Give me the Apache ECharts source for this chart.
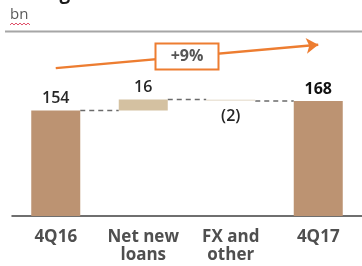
<!DOCTYPE html>
<html>
<head>
<meta charset="utf-8">
<script src="https://cdn.jsdelivr.net/npm/echarts@6/dist/echarts.min.js"></script>
<style>
html,body{margin:0;padding:0;background:#fff;}
#c{width:362px;height:266px;}
</style>
</head>
<body>
<div id="c"></div>
<script>
// ---- data ----
var categories = ['4Q16', 'Net new\nloans', 'FX and\nother', '4Q17'];
var values = [154, 16, -2, 168];          // start, change, change, end
var kinds = ['total', 'delta', 'delta', 'total'];
var valueLabels = ['154', '16', '(2)', '168'];
var unitLabel = 'bn';
var titleText = 'Loan growth';

// ---- derived waterfall geometry (from data) ----
var bases = [], heights = [], levels = [];
var running = 0;
for (var i = 0; i < values.length; i++) {
  if (kinds[i] === 'total') {
    bases.push(0); heights.push(values[i]); running = values[i];
  } else {
    var next = running + values[i];
    bases.push(Math.min(running, next));
    heights.push(Math.abs(values[i]));
    running = next;
  }
  levels.push(running);
}
var growthPct = Math.round((values[3] / values[0] - 1) * 100);

var barColors = ['#BC9372', '#D4C1A1', '#ECE5D9', '#BC9372'];
var ORANGE = '#ED7D31';
var BAR_W = 49;

var chart = echarts.init(document.getElementById('c'), null, {renderer: 'canvas'});

var visData = heights.map(function (h, i) {
  var neg = values[i] < 0;
  return {
    value: h,
    itemStyle: {color: barColors[i]},
    label: {
      show: true,
      position: neg ? 'bottom' : 'top',
      distance: neg ? 7 : 4,
      formatter: valueLabels[i],
      fontWeight: i === 3 ? 'bold' : 600,
      color: i === 3 ? '#111' : '#262626'
    }
  };
});

var connectorData = [];
for (var j = 0; j < levels.length - 1; j++) connectorData.push([j, levels[j]]);

chart.setOption({
  animation: false,
  textStyle: {fontFamily: 'Open Sans'},
  grid: {left: 12, width: 355, top: 38, bottom: 50, containLabel: false},
  xAxis: {
    type: 'category',
    data: categories,
    axisTick: {show: false},
    axisLine: {lineStyle: {color: '#404040', width: 1.5}},
    axisLabel: {
      interval: 0, margin: 12, fontSize: 17, fontWeight: 'bold',
      color: '#4f4f4f', lineHeight: 18, fontFamily: 'Open Sans'
    }
  },
  yAxis: {type: 'value', min: 0, max: 260, show: false, splitLine: {show: false}},
  series: [
    {
      type: 'bar', stack: 'w', barWidth: BAR_W, silent: true,
      itemStyle: {color: 'transparent'},
      data: bases,
      markLine: {
        silent: true,
        symbol: ['none', 'arrow'],
        symbolSize: 12,
        itemStyle: {color: ORANGE},
        lineStyle: {color: ORANGE, width: 2.5, type: 'solid'},
        label: {show: false},
        data: [[{coord: [0, 216]}, {coord: [3, 250]}]]
      }
    },
    {
      type: 'bar', stack: 'w', barWidth: BAR_W,
      data: visData,
      label: {fontSize: 16, fontFamily: 'Open Sans'}
    },
    {
      type: 'custom',
      data: connectorData,
      encode: {x: 0, y: 1},
      renderItem: function (params, api) {
        var idx = api.value(0), lvl = api.value(1);
        var p0 = api.coord([idx, lvl]);
        var p1 = api.coord([idx + 1, lvl]);
        return {
          type: 'line',
          shape: {x1: p0[0] + BAR_W / 2, y1: p0[1], x2: p1[0] - BAR_W / 2, y2: p1[1]},
          style: {stroke: '#6b6b6b', lineWidth: 1.5, lineDash: [5, 4]}
        };
      }
    }
  ]
});

// annotation box centred between categories 1 and 2, on the arrow
var a = chart.convertToPixel({gridIndex: 0}, [1, 233]);
var b = chart.convertToPixel({gridIndex: 0}, [2, 233]);
var cx = (a[0] + b[0]) / 2, cy = a[1];
var boxW = 63, boxH = 26;

// squiggle under "bn"
var sq = [];
for (var k = 0; k <= 10; k++) sq.push([10 + k * 2, 24 + (k % 2 ? -1 : 1)]);

chart.setOption({
  graphic: [
    {type: 'text', left: 8, top: -16, style: {text: titleText, font: 'bold 19px "Open Sans"', fill: '#1a1a1a'}},
    {type: 'text', left: 10, top: 7, style: {text: unitLabel, font: '15px "Open Sans"', fill: '#595959'}},
    {type: 'polyline', shape: {points: sq}, style: {stroke: '#e0506a', lineWidth: 1, fill: null}},
    {type: 'line', shape: {x1: 5, y1: 31.5, x2: 362, y2: 31.5}, style: {stroke: '#a6a6a6', lineWidth: 2}},
    {type: 'rect', shape: {x: cx - boxW / 2, y: cy - boxH / 2, width: boxW, height: boxH},
     style: {fill: '#fff', stroke: ORANGE, lineWidth: 2}, z: 100},
    {type: 'text', x: cx, y: cy, z: 101,
     style: {text: '+' + growthPct + '%', font: 'bold 16px "Open Sans"', fill: '#555',
             align: 'center', verticalAlign: 'middle'}}
  ]
});
</script>
</body>
</html>
